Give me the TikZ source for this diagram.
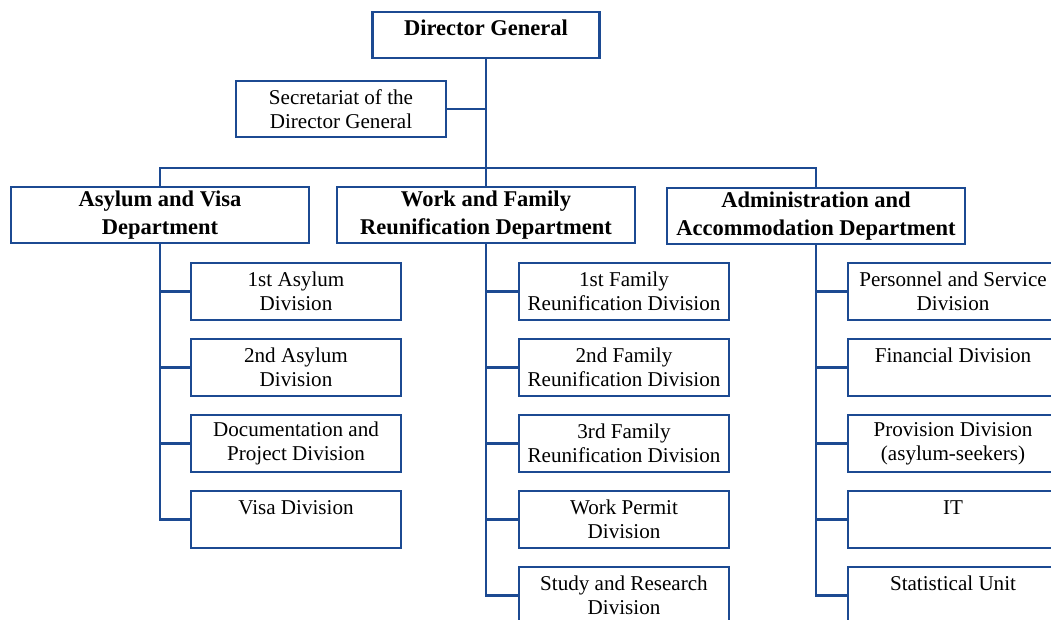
\documentclass[tikz,border=0pt]{standalone}
\usepackage{fontspec}
\setmainfont{Liberation Serif}
\usetikzlibrary{positioning}
\definecolor{orgblue}{RGB}{28,74,146}
\tikzset{
box/.style={draw=orgblue, line width=1.5pt, fill=white, align=center, inner sep=0pt}, % every framed box
chief/.style={box, font=\fontsize{16}{19.5}\selectfont\bfseries, minimum width=5.675cm, text height=0.575cm, text depth=0.575cm}, % the top box
head/.style={box, font=\fontsize{16}{19.5}\selectfont\bfseries, minimum width=7.45cm, minimum height=1.42cm}, % department boxes
unit/.style={box, font=\fontsize{15}{17}\selectfont, minimum width=5.25cm, minimum height=1.42cm}, % division boxes
link/.style={draw=orgblue, line width=1.9pt}, % connecting lines
}

\begin{document}
\begin{tikzpicture}[x=0.025cm, y=-0.025cm]
            \clip (0,0) rectangle (1051,619);
            \node[chief] (dg) at (486,35) {Director General};
            \node[unit] (sec) at (341,109) {Secretariat of the\\Director General};
            \node[head] (asy) at (160,215) {Asylum and Visa\\Department};
            \node[head] (wfr) at (486,215) {Work and Family\\Reunification Department};
            \node[head] (adm) at (816,216) {Administration and\\Accommodation Department};
            \coordinate (bus) at (486,168);

            % divisions
            \foreach \i/\t in {1/{1st Asylum\\Division}, 2/{2nd Asylum\\Division},
                               3/{Documentation and\\Project Division}, 4/{Visa Division\\~}}
                \node[unit] (a\i) at (296,{291.5+76*(\i-1)}) {\t};
            \foreach \i/\t in {1/{1st Family\\Reunification Division}, 2/{2nd Family\\Reunification Division},
                               3/{3rd Family\\Reunification Division}, 4/{Work Permit\\Division},
                               5/{Study and Research\\Division}}
                \node[unit] (w\i) at (624,{291.5+76*(\i-1)}) {\t};
            \foreach \i/\t in {1/{Personnel and Service\\Division}, 2/{Financial Division\\~},
                               3/{Provision Division\\(asylum-seekers)}, 4/{IT\\~},
                               5/{Statistical Unit\\~}}
                \node[unit] (m\i) at (953,{291.5+76*(\i-1)}) {\t};

            \draw[link]
                (dg.south) -- (bus)
                (sec.east) -- (sec.east -| dg.south)
                (asy.north) |- (bus) -| (adm.north)
                (bus) -- (wfr.north)
                (asy.south) |- (a4.west)
                (wfr.south) |- (w5.west)
                (adm.south) |- (m5.west)
                ;
            \foreach \i in {1,2,3}
                \draw[link] (a\i.west) -- (a\i.west -| asy.south);
            \foreach \i in {1,...,4} {
                \draw[link] (w\i.west) -- (w\i.west -| wfr.south);
                \draw[link] (m\i.west) -- (m\i.west -| adm.south);
            }
\end{tikzpicture}
\end{document}
